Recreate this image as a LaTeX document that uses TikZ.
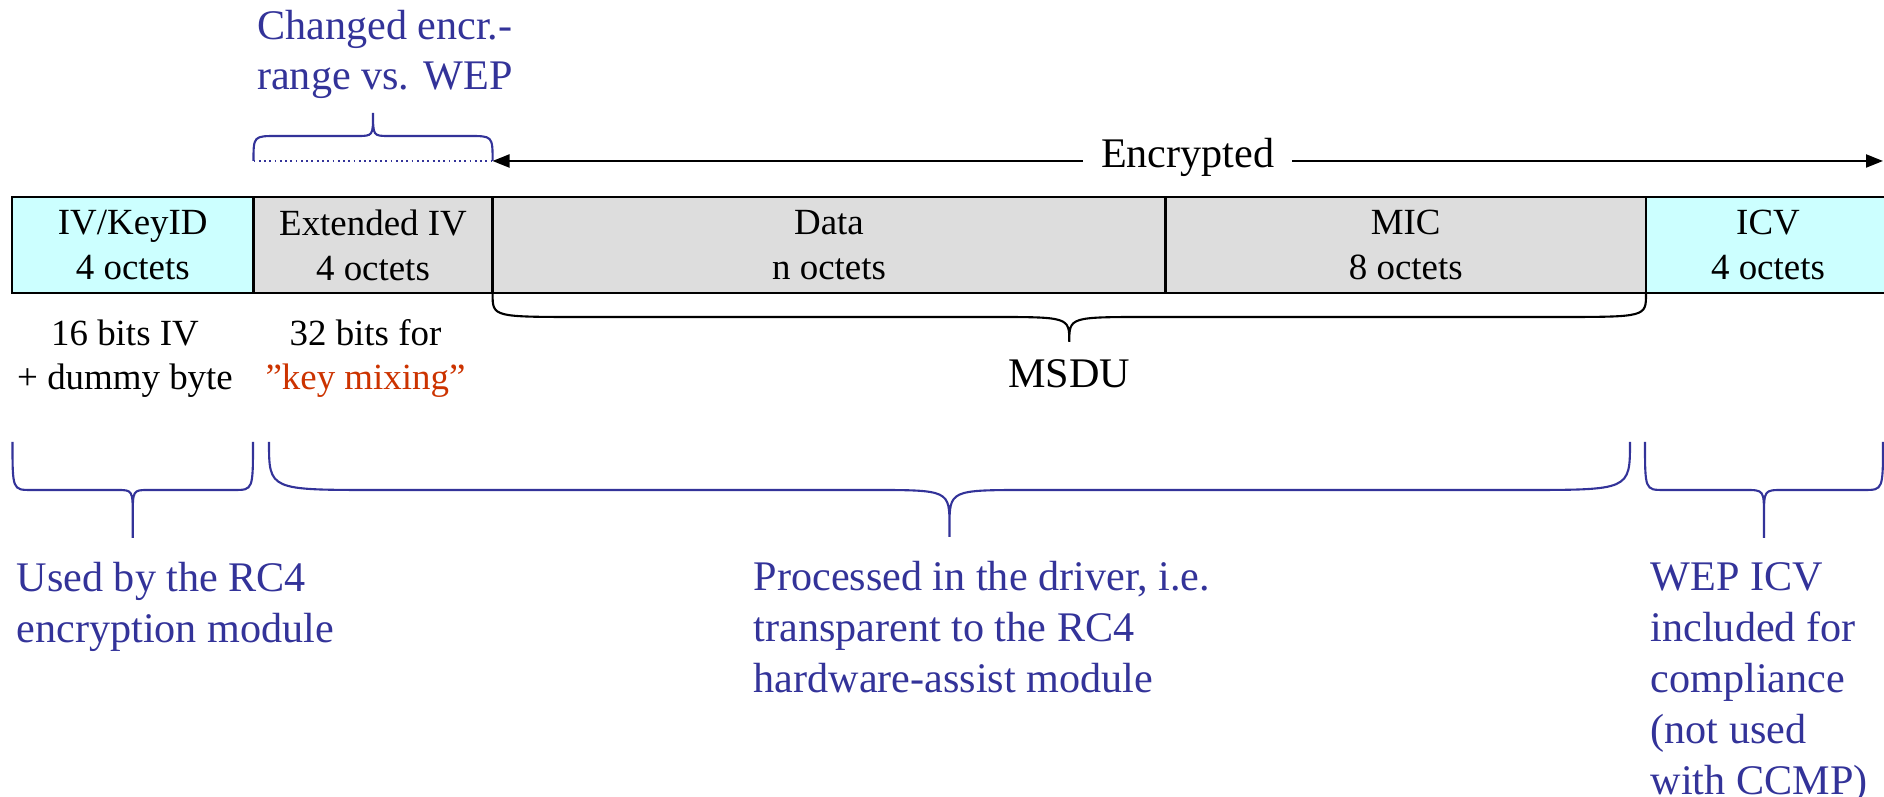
\documentclass[tikz,border=0pt]{standalone}
\usepackage{fontspec}
\setmainfont{Liberation Serif}
\usepackage{xcolor}
\usepackage{tikz}
\usetikzlibrary{arrows.meta, positioning, calc}
\definecolor{noteblue}{HTML}{333399}
\definecolor{mixred}{HTML}{CC3300}
\definecolor{hdrcyan}{HTML}{CCFFFF}
\definecolor{hdrgray}{HTML}{DDDDDD}
\tikzstyle{field} = [draw=black, line width=0.6pt, minimum height=0.96cm, inner sep=0pt, outer sep=0pt, align=center, font=\fontsize{10.5}{12.8}\selectfont]
\tikzstyle{note} = [inner sep=0pt, align=left, text=noteblue, font=\fontsize{12}{14.5}\selectfont]
\tikzstyle{sub} = [inner sep=0pt, align=center, font=\fontsize{10.5}{12.5}\selectfont]
\tikzstyle{bigtext} = [inner sep=0pt, font=\fontsize{12}{14.5}\selectfont]
\tikzstyle{arrow} = [line width=0.6pt, {Triangle[length=0.17cm,width=0.13cm]}-{Triangle[length=0.17cm,width=0.13cm]}]

% brace: [style]{x1}{x2}{y edge}{y middle}{y cusp}{y tip}{corner}{curl}
\newcommand{\fieldbrace}[9][]{%
  \pgfmathsetmacro{\bmid}{(#2+#3)/2}%
  \draw[line width=0.6pt,#1] (#2,#4) .. controls (#2,#5) .. ({#2+#8},#5)
    -- ({\bmid-#9},#5) .. controls (\bmid,#5) .. (\bmid,#6) -- (\bmid,#7)
    (\bmid,#6) .. controls (\bmid,#5) .. ({\bmid+#9},#5)
    -- ({#3-#8},#5) .. controls (#3,#5) .. (#3,#4);
}

\begin{document}
\begin{tikzpicture}
    \useasboundingbox (0,0) rectangle (18.84,7.97);

    % --- header fields ---
    \node (iv)   [field, fill=hdrcyan, minimum width=2.415cm, anchor=north west] at (0.12,6.0) {IV/KeyID\\4 octets};
    \node (ext)  [field, fill=hdrgray, minimum width=2.39cm, right=0pt of iv] {Extended IV\\4 octets};
    \node (data) [field, fill=hdrgray, minimum width=6.73cm, right=0pt of ext] {Data\\n octets};
    \node (mic)  [field, fill=hdrgray, minimum width=4.805cm, right=0pt of data] {MIC\\8 octets};
    \node (icv)  [field, fill=hdrcyan, minimum width=2.44cm, right=0pt of mic] {ICV\\4 octets};

    % --- encrypted range ---
    \coordinate (encend) at (18.83,6.36);
    \draw[arrow] (ext.north east |- encend) -- node[bigtext, fill=white, inner sep=0.18cm, yshift=0.04cm] {Encrypted} (encend);

    % --- changed range vs. WEP ---
    \draw[noteblue, densely dotted, line width=0.5pt] (ext.north west |- encend) -- (ext.north east |- encend);
    \fieldbrace[noteblue]{2.535}{4.926}{6.36}{6.61}{6.84}{6.84}{0.24}{0.16}
    \node (changed) [note, anchor=north west, font=\fontsize{12}{14.2}\selectfont] at (2.565,7.87) {Changed encr.-\\range vs. WEP};

    % --- MSDU ---
    \fieldbrace{4.926}{16.46}{5.03}{4.80}{4.55}{4.55}{0.9}{0.8}
    \node (msdu) [bigtext, anchor=base] at (10.69,4.09) {MSDU};

    % --- notes under the header ---
    \node (ivnote)  [sub, anchor=north] at (1.25,4.78) {16 bits IV\\+ dummy byte};
    \node (extnote) [sub, anchor=north] at (3.655,4.78) {32 bits for\\\textcolor{mixred}{”key mixing”}};

    % --- lower braces and their notes ---
    \fieldbrace[noteblue]{0.125}{2.53}{3.55}{3.07}{2.80}{2.59}{0.19}{0.16}
    \fieldbrace[noteblue]{2.69}{16.30}{3.55}{3.07}{2.70}{2.60}{1.08}{0.8}
    \fieldbrace[noteblue]{16.45}{18.83}{3.55}{3.07}{2.80}{2.59}{0.19}{0.19}

    \node (rcnote)   [note, anchor=north west] at (0.16,2.35) {Used by the RC4\\encryption module};
    \node (drvnote)  [note, anchor=north west] at (7.53,2.36) {Processed in the driver, i.e.\\transparent to the RC4\\hardware-assist module};
    \node (icvnote)  [note, anchor=north west] at (16.50,2.35) {WEP ICV\\included for\\compliance\\(not used\\with CCMP)};
\end{tikzpicture}
\end{document}
